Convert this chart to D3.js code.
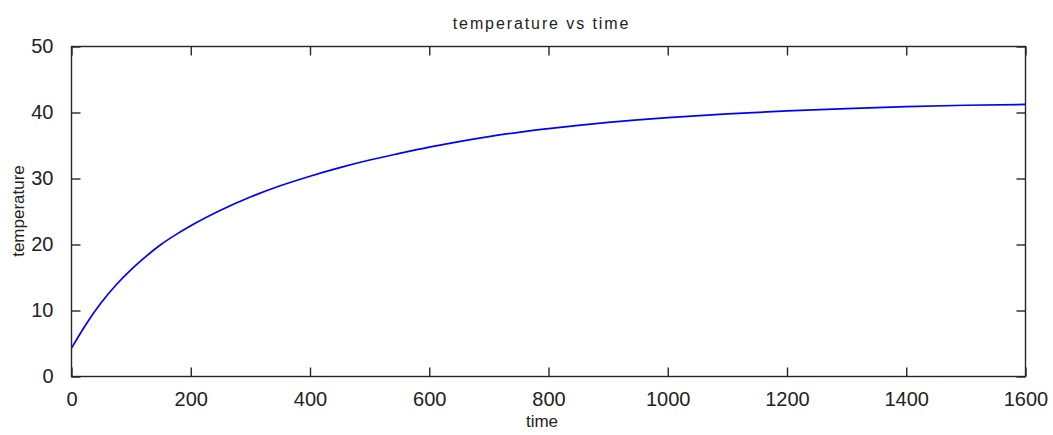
<!DOCTYPE html>
<html><head><meta charset="utf-8">
<script src="https://cdn.jsdelivr.net/npm/d3@7"></script>
<style>
html,body{margin:0;padding:0;background:#fff;}
svg{display:block;}
text{font-family:"Liberation Sans",Arial,sans-serif;fill:#222;}
</style></head>
<body>
<svg id="chart" width="1053" height="435"></svg>
<script>
const times = [0, 25, 50, 75, 100, 125, 150, 175, 200, 250, 300, 350, 400, 450, 500, 550, 600, 650, 700, 750, 800, 850, 900, 950, 1000, 1100, 1200, 1300, 1400, 1500, 1600];
const temperatures = [4.3, 8.0, 11.2, 13.9, 16.2, 18.2, 20.0, 21.5, 22.85, 25.2, 27.2, 28.9, 30.35, 31.65, 32.8, 33.8, 34.75, 35.6, 36.35, 37.0, 37.55, 38.05, 38.5, 38.88, 39.22, 39.8, 40.24, 40.6, 40.9, 41.1, 41.22];
const xTicks = [0, 200, 400, 600, 800, 1000, 1200, 1400, 1600];
const yTicks = [0, 10, 20, 30, 40, 50];
const titleText = "temperature vs time";
const xLabel = "time";
const yLabel = "temperature";

(function () {
const svg = d3.select("#chart");
const L = 71.5, R = 1025.5, T = 46.5, B = 376.5;
const x = d3.scaleLinear().domain([0, 1600]).range([L, R]);
const y = d3.scaleLinear().domain([0, 50]).range([B, T]);
const axisColor = "#262626";
const tickLen = 9;

const line = d3.line().x((d, i) => x(times[i])).y(d => y(d)).curve(d3.curveMonotoneX);
svg.append("path").datum(temperatures).attr("d", line)
  .attr("fill", "none").attr("stroke", "#0000ff").attr("stroke-width", 1.7);

svg.append("rect").attr("x", L).attr("y", T).attr("width", R - L).attr("height", B - T)
  .attr("fill", "none").attr("stroke", axisColor).attr("stroke-width", 1.4);

const axB = d3.axisBottom(x).tickValues(xTicks).tickSizeInner(-tickLen).tickSizeOuter(0).tickPadding(tickLen + 6).tickFormat(d3.format("d"));
const gB = svg.append("g").attr("transform", `translate(0,${B})`).call(axB);
const axT = d3.axisTop(x).tickValues(xTicks).tickSizeInner(-tickLen).tickSizeOuter(0).tickFormat("");
const gT = svg.append("g").attr("transform", `translate(0,${T})`).call(axT);
const axL = d3.axisLeft(y).tickValues(yTicks).tickSizeInner(-tickLen).tickSizeOuter(0).tickPadding(tickLen + 9).tickFormat(d3.format("d"));
const gL = svg.append("g").attr("transform", `translate(${L},0)`).call(axL);
const axR = d3.axisRight(y).tickValues(yTicks).tickSizeInner(-tickLen).tickSizeOuter(0).tickFormat("");
const gR = svg.append("g").attr("transform", `translate(${R},0)`).call(axR);

[gB, gT, gL, gR].forEach(g => {
  g.select(".domain").remove();
  g.selectAll(".tick line").attr("stroke", axisColor).attr("stroke-width", 1.4);
  g.selectAll(".tick text").attr("fill", "#222").style("font-size", "20px").style("font-family", "'Liberation Sans', Arial, sans-serif");
});

svg.append("text").attr("x", 541.5).attr("y", 29).attr("text-anchor", "middle")
  .style("font-size", "16px").style("letter-spacing", "1.9px").text(titleText);
svg.append("text").attr("x", 542).attr("y", 427).attr("text-anchor", "middle")
  .style("font-size", "17px").text(xLabel);
svg.append("text").attr("transform", `translate(24,${211}) rotate(-90)`).attr("text-anchor", "middle")
  .style("font-size", "17px").text(yLabel);
})();
</script>
</body></html>
